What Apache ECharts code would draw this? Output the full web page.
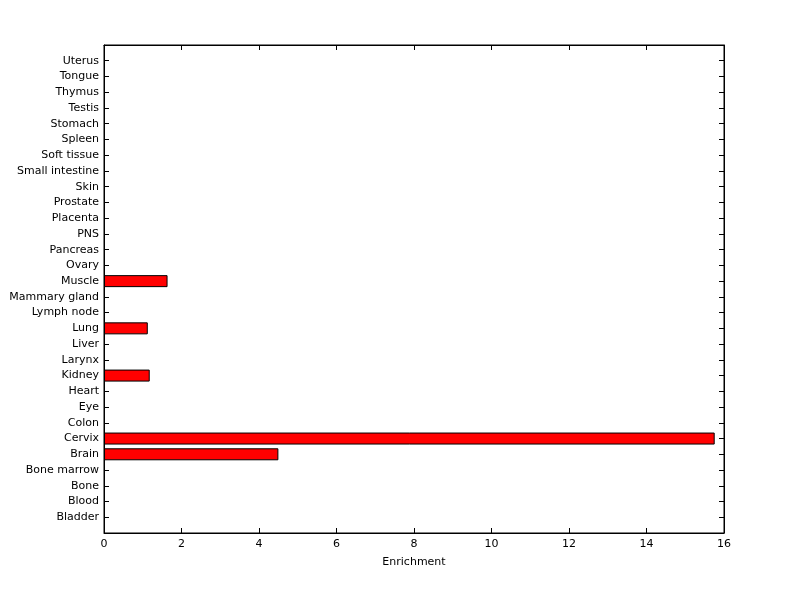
<!DOCTYPE html>
<html>
<head>
<meta charset="utf-8">
<script src="https://cdn.jsdelivr.net/npm/echarts@6/dist/echarts.min.js"></script>
<style>html,body{margin:0;padding:0;background:#fff;}#c{width:800px;height:599px;}</style>
</head>
<body>
<div id="c"></div>
<script>
var categories = ['Bladder','Blood','Bone','Bone marrow','Brain','Cervix','Colon','Eye','Heart','Kidney','Larynx','Liver','Lung','Lymph node','Mammary gland','Muscle','Ovary','Pancreas','PNS','Placenta','Prostate','Skin','Small intestine','Soft tissue','Spleen','Stomach','Testis','Thymus','Tongue','Uterus'];
var enrichment = [0,0,0,0,4.50,15.76,0,0,0,1.18,0,0,1.13,0,0,1.64,0,0,0,0,0,0,0,0,0,0,0,0,0,0];
var xTicks = [0,2,4,6,8,10,12,14,16];

// padded categories so that ticks are spaced as in the reference
var cats = [''].concat(categories).concat(['']);
var vals = [null].concat(enrichment.map(function(v){return v>0?v:null;})).concat([null]);

var font = 'DejaVu Sans, sans-serif';
var chart = echarts.init(document.getElementById('c'), null, {renderer:'canvas'});
var lineStyle = {color:'#000', width:1};
chart.setOption({
  animation:false,
  backgroundColor:'#fff',
  grid:{left:104, right:76, top:45, bottom:66, show:true, borderColor:'#000', borderWidth:1},
  xAxis:[{
    type:'value', min:xTicks[0], max:xTicks[xTicks.length-1], interval:2, position:'bottom',
    name:'Enrichment', nameLocation:'middle', nameGap:24,
    nameTextStyle:{fontFamily:font, fontSize:11, color:'#000'},
    axisLine:{show:true, onZero:false, lineStyle:lineStyle},
    axisTick:{show:true, inside:true, length:5, lineStyle:lineStyle},
    axisLabel:{fontFamily:font, fontSize:11, color:'#000', margin:6},
    splitLine:{show:false}
  },{
    type:'value', min:xTicks[0], max:xTicks[xTicks.length-1], interval:2, position:'top',
    axisLine:{show:true, onZero:false, lineStyle:lineStyle},
    axisTick:{show:true, inside:true, length:5, lineStyle:lineStyle},
    axisLabel:{show:false}, splitLine:{show:false}
  }],
  yAxis:[{
    type:'category', data:cats, boundaryGap:false, position:'left',
    axisLine:{show:true, onZero:false, lineStyle:lineStyle},
    axisTick:{show:true, inside:true, length:5, interval:0, lineStyle:lineStyle},
    axisLabel:{fontFamily:font, fontSize:11, color:'#000', margin:5, interval:0},
    splitLine:{show:false}
  },{
    type:'category', data:cats, boundaryGap:false, position:'right',
    axisLine:{show:true, onZero:false, lineStyle:lineStyle},
    axisTick:{show:true, inside:true, length:5, interval:0, lineStyle:lineStyle},
    axisLabel:{show:false}, splitLine:{show:false}
  }],
  series:[{
    type:'bar', data:vals, xAxisIndex:0, yAxisIndex:0, barWidth:12,
    itemStyle:{color:'#ff0000', borderColor:'#000', borderWidth:1}
  }]
});
</script>
</body>
</html>
